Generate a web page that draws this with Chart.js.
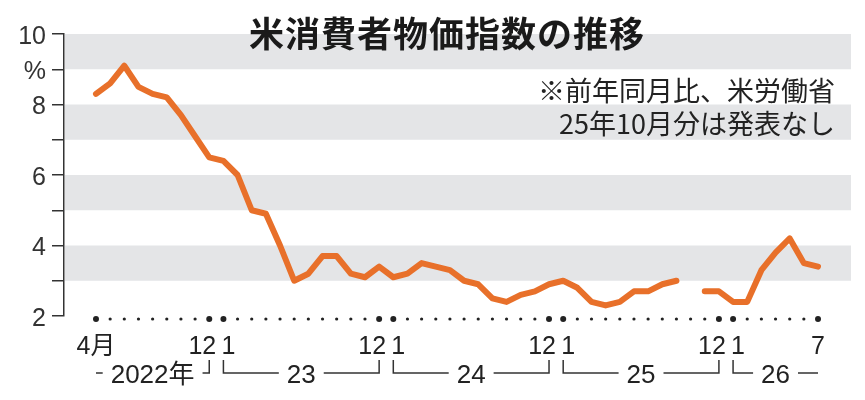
<!DOCTYPE html>
<html lang="ja">
<head>
<meta charset="utf-8">
<title>米消費者物価指数の推移</title>
<script src="https://cdn.jsdelivr.net/npm/chart.js@4.4.1/dist/chart.umd.min.js"></script>
<style>
  html, body { margin: 0; padding: 0; background: #fff; }
  #wrap { position: relative; width: 865px; height: 400px; }
  #chart { position: absolute; left: 0; top: 0; }
  .title {
    position: absolute; left: 249px; top: 14px;
    font: bold 35px/35px "Noto Sans CJK JP", sans-serif;
    letter-spacing: 1px; color: #1a1a1a; white-space: nowrap;
  }
  .note {
    position: absolute; right: 30px; top: 73px;
    font: 27px/33px "Noto Sans CJK JP", sans-serif;
    text-align: right; color: #222; white-space: nowrap;
  }
</style>
</head>
<body>
<div id="wrap">
  <canvas id="chart" width="865" height="400"></canvas>
  <div class="title">米消費者物価指数の推移</div>
  <div class="note">※前年同月比、米労働省<br>25年10月分は発表なし</div>
</div>
<script>
// months, Apr 2022 .. Jul 2026
const months = [
  '2022-04', '2022-05', '2022-06', '2022-07', '2022-08', '2022-09', '2022-10', '2022-11', '2022-12',
  '2023-01', '2023-02', '2023-03', '2023-04', '2023-05', '2023-06', '2023-07', '2023-08', '2023-09', '2023-10', '2023-11', '2023-12',
  '2024-01', '2024-02', '2024-03', '2024-04', '2024-05', '2024-06', '2024-07', '2024-08', '2024-09', '2024-10', '2024-11', '2024-12',
  '2025-01', '2025-02', '2025-03', '2025-04', '2025-05', '2025-06', '2025-07', '2025-08', '2025-09', '2025-10', '2025-11', '2025-12',
  '2026-01', '2026-02', '2026-03', '2026-04', '2026-05', '2026-06', '2026-07'
];
// CPI, % y/y (Oct 2025 not published)
const cpi = [
  8.3, 8.6, 9.1, 8.5, 8.3, 8.2, 7.7, 7.1, 6.5,
  6.4, 6.0, 5.0, 4.9, 4.0, 3.0, 3.2, 3.7, 3.7, 3.2, 3.1, 3.4,
  3.1, 3.2, 3.5, 3.4, 3.3, 3.0, 2.9, 2.5, 2.4, 2.6, 2.7, 2.9,
  3.0, 2.8, 2.4, 2.3, 2.4, 2.7, 2.7, 2.9, 3.0, null, 2.7, 2.7,
  2.4, 2.4, 3.3, 3.8, 4.2, 3.5, 3.4
];
const yTickLabels = { 10: '10', 9: '%', 8: '8', 6: '6', 4: '4', 2: '2' };
const monthTickLabels = {
  '2022-04': '4月', '2022-12': '12', '2023-01': '1', '2023-12': '12', '2024-01': '1',
  '2024-12': '12', '2025-01': '1', '2025-12': '12', '2026-01': '1', '2026-07': '7'
};
const yearLabels = [
  ['2022年', '2022-04', '2022-12'],
  ['23', '2023-01', '2023-12'],
  ['24', '2024-01', '2024-12'],
  ['25', '2025-01', '2025-12'],
  ['26', '2026-01', '2026-07']
];
const bands = [[9, 10], [7, 8], [5, 6], [3, 4]];

const ink = '#222';
const labelFont = "'Liberation Sans', 'Noto Sans CJK JP', sans-serif";

const bandsPlugin = {
  id: 'bands',
  beforeDraw(chart) {
    const { ctx, chartArea: a, scales: { y } } = chart;
    ctx.save();
    ctx.fillStyle = '#e4e5e7';
    bands.forEach(([lo, hi]) => {
      const top = y.getPixelForValue(hi), bot = y.getPixelForValue(lo);
      ctx.fillRect(a.left + 1, top, a.right - a.left - 1, bot - top);
    });
    ctx.restore();
  }
};

const monthAxis = {
  id: 'monthAxis',
  afterDraw(chart) {
    const { ctx, chartArea: a, scales: { x } } = chart;
    const px = m => x.getPixelForValue(months.indexOf(m));
    ctx.save();
    ctx.fillStyle = ink;
    ctx.strokeStyle = '#333';
    // dotted baseline, bigger dots at year edges
    months.forEach((m, i) => {
      const mm = m.slice(5);
      const big = i === 0 || i === months.length - 1 || mm === '12' || mm === '01';
      ctx.beginPath();
      ctx.arc(x.getPixelForValue(i), a.bottom + 3, big ? 3 : 1.6, 0, Math.PI * 2);
      ctx.fill();
    });
    // month labels
    ctx.font = '25px ' + labelFont;
    ctx.textBaseline = 'alphabetic';
    Object.entries(monthTickLabels).forEach(([m, t]) => {
      let xx = px(m);
      if (t === '12') { ctx.textAlign = 'right'; xx += 7; }
      else if (t === '1') { ctx.textAlign = 'left'; xx -= 2; }
      else ctx.textAlign = 'center';
      ctx.fillText(t, xx, a.bottom + 38);
    });
    // year row with brackets
    ctx.font = '26px ' + labelFont;
    ctx.textAlign = 'center';
    ctx.lineWidth = 1.5;
    const ly = a.bottom + 57, topY = a.bottom + 44, gap = 8;
    yearLabels.forEach(([t, m0, m1]) => {
      const x0 = px(m0), x1 = px(m1), cx = (x0 + x1) / 2;
      const w = ctx.measureText(t).width;
      ctx.fillText(t, cx, a.bottom + 67);
      ctx.beginPath();
      if (m0.endsWith('-01')) { ctx.moveTo(x0, topY); ctx.lineTo(x0, ly); } else ctx.moveTo(x0, ly);
      ctx.lineTo(cx - w / 2 - gap, ly);
      ctx.moveTo(cx + w / 2 + gap, ly);
      ctx.lineTo(x1, ly);
      if (m1.endsWith('-12')) ctx.lineTo(x1, topY);
      ctx.stroke();
    });
    ctx.restore();
  }
};

new Chart(document.getElementById('chart'), {
  type: 'line',
  data: {
    datasets: [{
      data: cpi.map((v, i) => ({ x: i, y: v })),
      borderColor: '#e8702a',
      borderWidth: 6,
      borderCapStyle: 'round',
      borderJoinStyle: 'round',
      pointRadius: 0,
      tension: 0,
      spanGaps: false,
      clip: false
    }]
  },
  options: {
    responsive: false,
    animation: false,
    layout: { padding: { top: 34, right: 14, bottom: 84, left: 0 } },
    plugins: { legend: { display: false }, tooltip: { enabled: false } },
    scales: {
      x: {
        type: 'linear',
        display: false,
        min: -2.26,
        max: months.length - 1 + 2.33
      },
      y: {
        min: 2,
        max: 10,
        afterFit(s) { s.width = 64; },
        border: { display: true, color: '#333', width: 1.5 },
        grid: { drawOnChartArea: false, drawTicks: true, tickLength: 12, color: '#333', lineWidth: 1.5 },
        ticks: {
          stepSize: 1,
          autoSkip: false,
          padding: 6,
          labelOffset: 3,
          color: '#333',
          font: { family: labelFont, size: 25 },
          callback: v => yTickLabels[v] ?? ''
        }
      }
    }
  },
  plugins: [bandsPlugin, monthAxis]
});
</script>
</body>
</html>
